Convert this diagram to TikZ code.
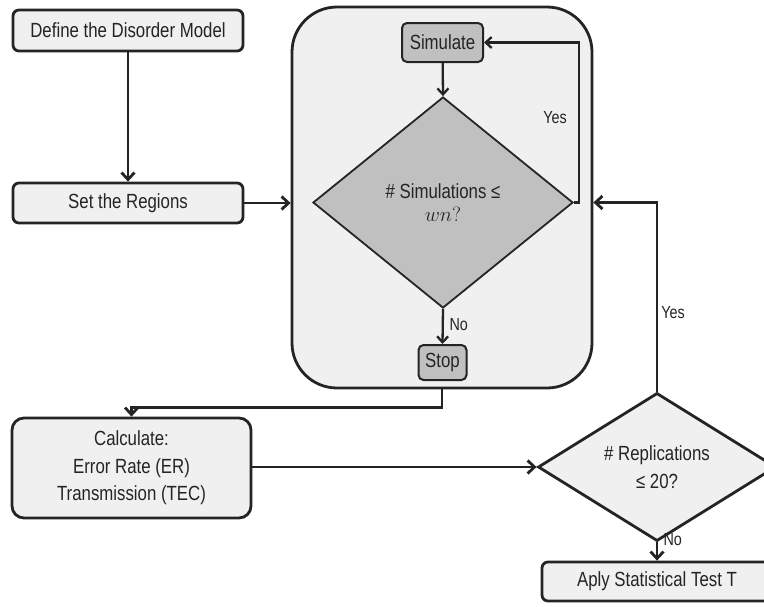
\documentclass[tikz,border=0pt]{standalone}
\usepackage{fontspec}
\setmainfont[FakeStretch=0.82]{Liberation Sans}
\usetikzlibrary{shapes.geometric,arrows.meta,calc}
\definecolor{ink}{HTML}{242424}
\definecolor{lightfill}{HTML}{F0F0F0}
\definecolor{darkfill}{HTML}{C0C0C0}
\begin{document}
\begin{tikzpicture}[x=1pt,y=-1pt,
  every node/.style={text=ink},
  mainfont/.style={font=\fontsize{20.5}{27.5}\selectfont},
  lblfont/.style={font=\fontsize{17.5}{20}\selectfont},
  procbox/.style={draw=ink, fill=lightfill, line width=2.8pt, rounded corners=6pt,
    inner sep=0pt, align=center, mainfont},
  innerbox/.style={draw=ink, fill=darkfill, line width=2pt, rounded corners=5pt,
    inner sep=0pt, align=center, mainfont},
  decide/.style={diamond, draw=ink, line width=1.8pt, inner sep=0pt, align=center, mainfont},
  conn/.style={draw=ink, line width=2.8pt, -{Straight Barb[length=7pt,width=13pt]}},
  conninner/.style={draw=ink, line width=2.3pt, -{Straight Barb[length=6pt,width=11pt]}}
]
\useasboundingbox (0,0) rectangle (764,606);
\clip (0,0) rectangle (764,606);

% left column
\node[procbox, minimum width=230pt, minimum height=41pt] (define) at (128,30.5) {Define the Disorder Model};
\node[procbox, minimum width=230pt, minimum height=40pt] (regions) at (128,203) {Set the Regions};

% big container
\node[draw=ink, fill=lightfill, line width=2.8pt, rounded corners=45pt,
  minimum width=300pt, minimum height=381pt, inner sep=0pt] (big) at (442,197.5) {};

\node[innerbox, minimum width=81pt, minimum height=39pt] (sim) at (442.5,42.5) {Simulate};
\node[decide, fill=darkfill, minimum width=260pt, minimum height=211pt] (d1) at (443,202.5)
  {\# Simulations ≤\\[-4pt] $wn?$};
\node[innerbox, minimum width=48pt, minimum height=35pt] (stop) at (442.5,362.5) {Stop};

% bottom
\node[procbox, minimum width=239pt, minimum height=100pt, rounded corners=12pt] (calc) at (131.5,468)
  {Calculate:\\Error Rate (ER)\\Transmission (TEC)};
\node[decide, fill=lightfill, line width=2.8pt, minimum width=238pt, minimum height=123pt] (d2) at (657,467)
  {\# Replications\\≤ 20?};
\node[procbox, minimum width=230pt, minimum height=39pt] (aply) at (657,581.5) {Aply Statistical Test T};

% connectors
\draw[conn] (define) -- (regions);
\draw[conn] (regions.east) -- (regions.east -| big.west);
\draw[conninner] (sim) -- (d1.north);
\draw[conninner] (d1.east) -- ++(5,0) |- (sim.east);
\node[lblfont] (yes1) at (555,118) {Yes};
\draw[conninner] (d1.south) -- (stop.north);
\node[lblfont, anchor=west] (no1) at (446,325) {No};
\draw[conn] (big.south) -- ++(0,18) -| (calc.north);
\draw[conn] (calc.east |- d2.west) -- (d2.west);
\draw[conn] (d2.north) |- (d1.east -| big.east);
\node[lblfont] (yes2) at (673,313) {Yes};
\draw[conn] (d2.south) -- (aply.north);
\node[lblfont, anchor=west] (no2) at (660,540) {No};
\end{tikzpicture}
\end{document}
